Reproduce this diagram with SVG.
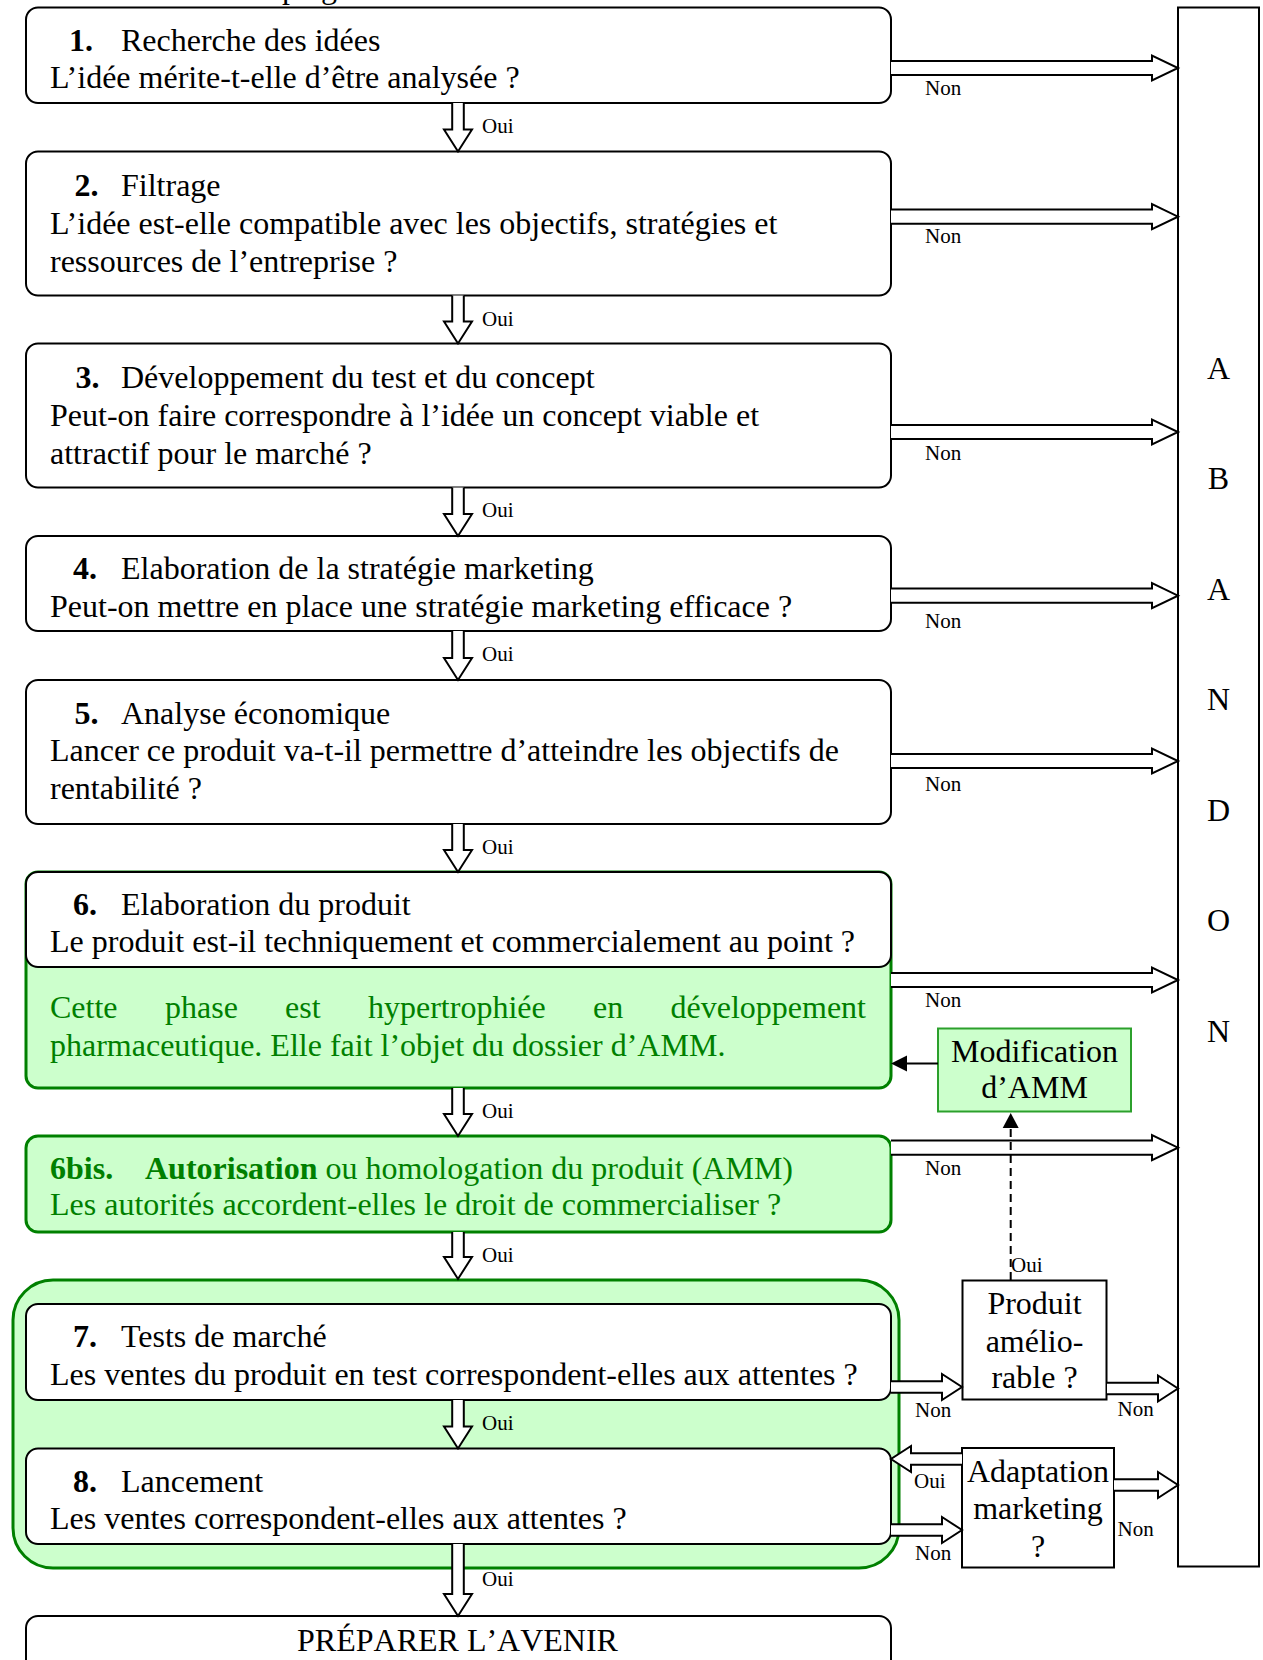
<svg xmlns="http://www.w3.org/2000/svg" width="1263" height="1660" viewBox="0 0 1263 1660">
  <style>
    text { font-family: "Liberation Serif", "Times New Roman", serif; fill: #000; }
    .t { font-size: 32px; }
    .b { font-weight: bold; }
    .lbl { font-size: 21px; }
    .mid { text-anchor: middle; }
    .nokern { font-kerning: none; }
    .g { fill: #008000; }
    .box { fill: #fff; stroke: #000; stroke-width: 2; }
    .gbox { fill: #ccffcc; stroke: #008000; stroke-width: 3; }
    .sq { fill: #fff; stroke: #000; stroke-width: 2; }
    .arr { fill: #fff; stroke: #000; stroke-width: 2; stroke-linejoin: miter; }
  </style>

  <!-- line of the page above, cut by the frame -->
  <text class="t"><tspan x="282" y="-2">p</tspan><tspan x="321" y="-2">g</tspan></text>

  <!-- abandon column -->
  <g id="abandon">
    <rect x="1178" y="7.5" width="81" height="1559" fill="#fff" stroke="#000" stroke-width="2"/>
    <text class="t mid" x="1218.5" y="378.5">A</text>
    <text class="t mid" x="1218.5" y="489">B</text>
    <text class="t mid" x="1218.5" y="599.5">A</text>
    <text class="t mid" x="1218.5" y="710">N</text>
    <text class="t mid" x="1218.5" y="820.5">D</text>
    <text class="t mid" x="1218.5" y="931">O</text>
    <text class="t mid" x="1218.5" y="1041.5">N</text>
  </g>

  <!-- test and launch frame -->
  <g id="phase-marche">
    <rect class="gbox" x="13" y="1280" width="886" height="288" rx="40"/>
  </g>

  <g id="step1">
    <rect class="box" x="26" y="7.5" width="865" height="95.5" rx="12"/>
    <text class="t b" x="69" y="50.5">1.</text>
    <text class="t" x="121" y="50.5">Recherche des idées</text>
    <text class="t" x="50" y="88">L’idée mérite-t-elle d’être analysée ?</text>
  </g>

  <g id="step2">
    <rect class="box" x="26" y="151.5" width="865" height="144" rx="12"/>
    <text class="t b" x="74.5" y="196">2.</text>
    <text class="t" x="121" y="196">Filtrage</text>
    <text class="t" x="50" y="234">L’idée est-elle compatible avec les objectifs, stratégies et</text>
    <text class="t" x="50" y="271.5">ressources de l’entreprise ?</text>
  </g>

  <g id="step3">
    <rect class="box" x="26" y="343.5" width="865" height="144" rx="12"/>
    <text class="t b" x="75.5" y="388">3.</text>
    <text class="t" x="121" y="388">Développement du test et du concept</text>
    <text class="t" x="50" y="426">Peut-on faire correspondre à l’idée un concept viable et</text>
    <text class="t" x="50" y="463.5">attractif pour le marché ?</text>
  </g>

  <g id="step4">
    <rect class="box" x="26" y="536" width="865" height="95" rx="12"/>
    <text class="t b" x="73" y="579">4.</text>
    <text class="t" x="121" y="579">Elaboration de la stratégie marketing</text>
    <text class="t" x="50" y="616.5">Peut-on mettre en place une stratégie marketing efficace ?</text>
  </g>

  <g id="step5">
    <rect class="box" x="26" y="680" width="865" height="144" rx="12"/>
    <text class="t b" x="74.5" y="724">5.</text>
    <text class="t" x="121" y="724">Analyse économique</text>
    <text class="t" x="50" y="761">Lancer ce produit va-t-il permettre d’atteindre les objectifs de</text>
    <text class="t" x="50" y="798.5">rentabilité ?</text>
  </g>

  <g id="step6">
    <rect class="gbox" x="26" y="872" width="865" height="216" rx="12"/>
    <rect class="box" x="26" y="872" width="865" height="95" rx="12"/>
    <text class="t b" x="73" y="915">6.</text>
    <text class="t" x="121" y="915">Elaboration du produit</text>
    <text class="t" x="50" y="952">Le produit est-il techniquement et commercialement au point ?</text>
    <text class="t g" y="1017.5"><tspan x="50">Cette</tspan><tspan x="165">phase</tspan><tspan x="285">est</tspan><tspan x="368">hypertrophiée</tspan><tspan x="593">en</tspan><tspan x="670.5">développement</tspan></text>
    <text class="t g" x="50" y="1055.5">pharmaceutique. Elle fait l’objet du dossier d’AMM.</text>
  </g>

  <g id="step6bis">
    <rect class="gbox" x="26" y="1136" width="865" height="96" rx="12"/>
    <text class="t b g" x="50" y="1178.5">6bis.</text>
    <text class="t g" x="145" y="1178.5"><tspan class="b">Autorisation</tspan> ou homologation du produit (AMM)</text>
    <text class="t g" x="50" y="1214.5">Les autorités accordent-elles le droit de commercialiser ?</text>
  </g>

  <g id="step7">
    <rect class="box" x="26" y="1304" width="865" height="96" rx="12"/>
    <text class="t b" x="73" y="1347">7.</text>
    <text class="t" x="121" y="1347">Tests de marché</text>
    <text class="t" x="50" y="1384.5">Les ventes du produit en test correspondent-elles aux attentes ?</text>
  </g>

  <g id="step8">
    <rect class="box" x="26" y="1448.5" width="865" height="95.5" rx="12"/>
    <text class="t b" x="73" y="1491.5">8.</text>
    <text class="t" x="121" y="1491.5">Lancement</text>
    <text class="t" x="50" y="1529">Les ventes correspondent-elles aux attentes ?</text>
  </g>

  <g id="avenir">
    <rect class="box" x="26" y="1616" width="865" height="80" rx="12"/>
    <text class="t mid nokern" x="457.5" y="1651">PRÉPARER L’AVENIR</text>
  </g>

  <g id="modification-amm">
    <rect x="938" y="1028.5" width="193" height="83" fill="#ccffcc" stroke="#2ca02c" stroke-width="2"/>
    <text class="t mid" x="1034.5" y="1061.5">Modification</text>
    <text class="t mid" x="1034.5" y="1098">d’AMM</text>
  </g>

  <g id="produit-ameliorable">
    <rect class="sq" x="962.5" y="1280.5" width="144" height="119"/>
    <text class="t mid" x="1034.5" y="1314">Produit</text>
    <text class="t mid" x="1034.5" y="1351.5">amélio-</text>
    <text class="t mid" x="1034.5" y="1388">rable ?</text>
  </g>

  <g id="adaptation-marketing">
    <rect class="sq" x="962" y="1448" width="152" height="119.5"/>
    <text class="t mid" x="1038" y="1482">Adaptation</text>
    <text class="t mid" x="1038" y="1519">marketing</text>
    <text class="t mid" x="1038" y="1557">?</text>
  </g>

  <g id="connectors">
    <!-- "Oui" block arrows down the main column -->
    <path class="arr" d="M452.2,103 V129.5 H444 L458,151.5 L472,129.5 H463.8 V103"/>
    <path class="arr" d="M452.2,295.5 V321.5 H444 L458,343.5 L472,321.5 H463.8 V295.5"/>
    <path class="arr" d="M452.2,487.5 V514 H444 L458,536 L472,514 H463.8 V487.5"/>
    <path class="arr" d="M452.2,631 V658 H444 L458,680 L472,658 H463.8 V631"/>
    <path class="arr" d="M452.2,824 V850 H444 L458,872 L472,850 H463.8 V824"/>
    <path class="arr" d="M452.2,1088 V1114 H444 L458,1136 L472,1114 H463.8 V1088"/>
    <path class="arr" d="M452.2,1232 V1257 H444 L458,1279 L472,1257 H463.8 V1232"/>
    <path class="arr" d="M452.2,1400 V1426.5 H444 L458,1448.5 L472,1426.5 H463.8 V1400"/>
    <path class="arr" d="M452.2,1544 V1594 H444 L458,1616 L472,1594 H463.8 V1544"/>

    <!-- "Non" block arrows to the abandon column -->
    <path class="arr" d="M891,60.9 H1152 V55.5 L1178,68 L1152,80.5 V75.1 H891"/>
    <path class="arr" d="M891,209.6 H1152 V204.2 L1178,216.7 L1152,229.2 V223.8 H891"/>
    <path class="arr" d="M891,424.9 H1152 V419.5 L1178,432 L1152,444.5 V439.1 H891"/>
    <path class="arr" d="M891,588.6 H1152 V583.2 L1178,595.7 L1152,608.2 V602.8 H891"/>
    <path class="arr" d="M891,753.9 H1152 V748.5 L1178,761 L1152,773.5 V768.1 H891"/>
    <path class="arr" d="M891,972.9 H1152 V967.5 L1178,980 L1152,992.5 V987.1 H891"/>
    <path class="arr" d="M891,1140.6 H1152 V1135.2 L1178,1147.7 L1152,1160.2 V1154.8 H891"/>

    <!-- small block arrows around the market-test stage -->
    <path class="arr" d="M891,1381.2 H942 V1374 L962,1387 L942,1400 V1392.8 H891"/>
    <path class="arr" d="M1107,1382.7 H1158 V1375.5 L1178,1388.5 L1158,1401.5 V1394.3 H1107"/>
    <path class="arr" d="M962,1453.2 H911 V1446 L891,1459 L911,1472 V1464.8 H962"/>
    <path class="arr" d="M891,1524.2 H942 V1517 L962,1530 L942,1543 V1535.8 H891"/>
    <path class="arr" d="M1114,1479.2 H1158 V1472 L1178,1485 L1158,1498 V1490.8 H1114"/>

    <!-- marketing authorisation change loops back into step 6 -->
    <line x1="938" y1="1063.5" x2="906" y2="1063.5" stroke="#000" stroke-width="2"/>
    <polygon points="891,1063.5 907,1055.5 907,1071.5" fill="#000"/>
    <line x1="1010.7" y1="1280" x2="1010.7" y2="1127" stroke="#000" stroke-width="2" stroke-dasharray="8,5"/>
    <polygon points="1010.7,1113 1002.7,1128 1018.7,1128" fill="#000"/>

    <!-- branch labels -->
    <g>
      <text class="lbl" x="482" y="133">Oui</text>
      <text class="lbl" x="482" y="325.5">Oui</text>
      <text class="lbl" x="482" y="517">Oui</text>
      <text class="lbl" x="482" y="661">Oui</text>
      <text class="lbl" x="482" y="854">Oui</text>
      <text class="lbl" x="482" y="1118">Oui</text>
      <text class="lbl" x="482" y="1262">Oui</text>
      <text class="lbl" x="482" y="1430">Oui</text>
      <text class="lbl" x="482" y="1586">Oui</text>
      <text class="lbl" x="1011" y="1271.5">Oui</text>
      <text class="lbl" x="914" y="1488">Oui</text>
      <text class="lbl" x="925" y="94.5">Non</text>
      <text class="lbl" x="925" y="243">Non</text>
      <text class="lbl" x="925" y="460">Non</text>
      <text class="lbl" x="925" y="628">Non</text>
      <text class="lbl" x="925" y="791">Non</text>
      <text class="lbl" x="925" y="1007">Non</text>
      <text class="lbl" x="925" y="1175">Non</text>
      <text class="lbl" x="915" y="1416.5">Non</text>
      <text class="lbl" x="1117.5" y="1416">Non</text>
      <text class="lbl" x="915" y="1560">Non</text>
      <text class="lbl" x="1117.5" y="1536">Non</text>
    </g>
  </g>
</svg>
